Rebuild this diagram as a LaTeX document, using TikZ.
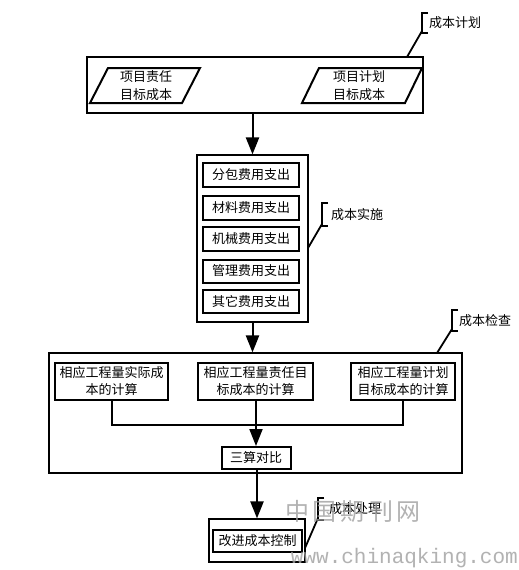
\documentclass[tikz,border=0pt]{standalone}
\usepackage{fontspec}
\setmainfont{Liberation Serif}
\newfontfamily\cjk{Noto Sans CJK SC}
\newfontfamily\wmono{Liberation Mono}
\usetikzlibrary{arrows.meta}
\begin{document}
\begin{tikzpicture}[x=1pt,y=-1pt,
  outerbox/.style={draw, line width=1.1pt, inner sep=0pt},
  innerbox/.style={draw, line width=2pt, inner sep=0pt, font=\cjk\fontsize{13}{17}\selectfont, align=center},
  conn/.style={line width=2pt},
  arr/.style={conn, -{Triangle[width=13pt,length=17pt]}},
  brk/.style={line width=1.8pt},
  txt/.style={font=\cjk\fontsize{13}{18}\selectfont, align=center, inner sep=0pt},
  lbl/.style={font=\cjk\fontsize{13}{16}\selectfont, inner sep=0pt, anchor=west}]
\useasboundingbox[fill=white] (0,0) rectangle (519,570);

% plan
\node[outerbox, minimum width=336pt, minimum height=56pt] (top) at (255,85) {};
\draw[line width=2pt] (90,103) -- (108,68) -- (200,68) -- (182,103) -- cycle;
\node[txt] (p1) at (146,86) {项目责任\\目标成本};
\draw[line width=2pt] (302,103) -- (319,68) -- (422,68) -- (405,103) -- cycle;
\node[txt] (p2) at (359,86) {项目计划\\目标成本};
\node[lbl] (l1) at (429,23) {成本计划};
\coordinate (b1) at (407,57);
\draw[brk] (428,13) -- (422,13) -- (422,33) -- (428,33);
\draw[brk] (422,31) -- (b1);

% implementation
\node[outerbox, minimum width=111pt, minimum height=167pt] (mid) at (252.5,238.5) {};
\node[innerbox, minimum width=96pt, minimum height=24pt] (m1) at (251,175) {分包费用支出};
\node[innerbox, minimum width=96pt, minimum height=24pt] (m2) at (251,208) {材料费用支出};
\node[innerbox, minimum width=96pt, minimum height=24pt] (m3) at (251,239) {机械费用支出};
\node[innerbox, minimum width=96pt, minimum height=23pt] (m4) at (251,271) {管理费用支出};
\node[innerbox, minimum width=96pt, minimum height=23pt] (m5) at (251,301.5) {其它费用支出};
\node[lbl] (l2) at (331,214.5) {成本实施};
\coordinate (b2) at (308,248);
\draw[brk] (328,203) -- (322,203) -- (322,226) -- (328,226);
\draw[brk] (322,224) -- (b2);

\draw[arr] (mid.north |- top.south) -- (mid.north);

% check
\node[outerbox, minimum width=413pt, minimum height=120pt] (big) at (255.5,413) {};
\draw[arr] (mid.south) -- (mid.south |- big.north);
\node[innerbox, minimum width=113pt, minimum height=37pt] (ca) at (111.5,381.5) {相应工程量实际成\\本的计算};
\node[innerbox, minimum width=115pt, minimum height=37pt] (cb) at (255.5,381.5) {相应工程量责任目\\标成本的计算};
\node[innerbox, minimum width=104pt, minimum height=37pt] (cc) at (403,381.5) {相应工程量计划\\目标成本的计算};
\node[lbl] (l3) at (459,320.5) {成本检查};
\coordinate (b3) at (437,353);
\draw[brk] (458,310) -- (452,310) -- (452,331) -- (458,331);
\draw[brk] (452,329) -- (b3);

\coordinate (j) at (256,425);
\draw[conn] (ca.south) -- (ca.south |- j) -- (cc.south |- j) -- (cc.south);
\draw[conn] (cb.south -| j) -- (j);
\node[innerbox, minimum width=69pt, minimum height=22pt] (cmp) at (256,458) {三算对比};
\draw[arr] (j) -- (cmp.north);

% handling
\node[outerbox, minimum width=96pt, minimum height=43pt] (bout) at (257,540.5) {};
\node[innerbox, minimum width=89pt, minimum height=22pt] (bin) at (257.5,541) {改进成本控制};
\draw[arr] (cmp.south -| bout.north) -- (bout.north);
\node[lbl] (l4) at (329,509) {成本处理};
\coordinate (b4) at (305,548);
\draw[brk] (324,498) -- (318,498) -- (318,520) -- (324,520);
\draw[brk] (318,518) -- (b4);

% watermark
\node[font=\cjk\fontsize{24}{24}\selectfont, text=gray!75, text opacity=0.8, inner sep=0pt] (wm1) at (353,511) {中\,国\,期\,刊\,网};
\node[font=\wmono\fontsize{21}{21}\selectfont, text=gray!75, text opacity=0.8, inner sep=0pt, anchor=east] (wm2) at (518,558) {www.chinaqking.com};
\end{tikzpicture}
\end{document}
